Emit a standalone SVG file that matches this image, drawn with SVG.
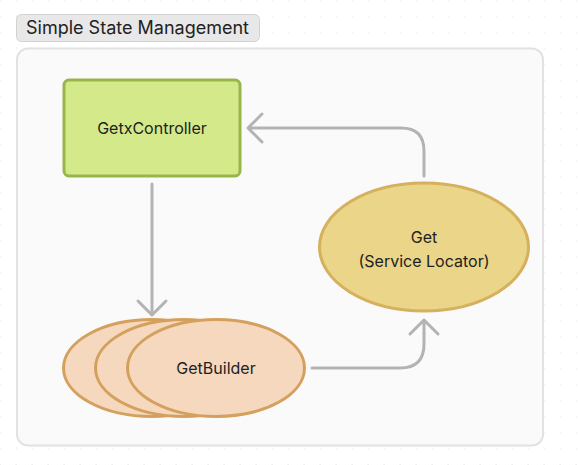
<svg xmlns="http://www.w3.org/2000/svg" width="578" height="465" viewBox="0 0 578 465">
<defs>
<pattern id="dots" x="0" y="0" width="16" height="16" patternUnits="userSpaceOnUse">
<rect x="-0.5" y="-0.5" width="1.2" height="1.2" fill="#dcdcdc"/>
<rect x="15.5" y="-0.5" width="1.2" height="1.2" fill="#dcdcdc"/>
<rect x="-0.5" y="15.5" width="1.2" height="1.2" fill="#dcdcdc"/>
<rect x="15.5" y="15.5" width="1.2" height="1.2" fill="#dcdcdc"/>
</pattern>
</defs>
<style>
text{font-family:Inter,"Liberation Sans",sans-serif;fill:#222;}
.lbl{font-size:16px;text-anchor:middle;dominant-baseline:central;}
.title{font-size:18px;}
.conn{fill:none;stroke:#b3b3b3;stroke-width:3;stroke-linecap:round;stroke-linejoin:round;}
.gb{fill:#f5d8bd;stroke:#d4a05e;stroke-width:3;}
</style>
<rect width="578" height="465" fill="#ffffff"/>
<rect width="578" height="465" fill="url(#dots)"/>
<g id="title">
<rect x="16.5" y="14.5" width="243" height="27" rx="5" fill="#e8e8e8" stroke="#d2d2d2" stroke-width="1"/>
<text class="title" x="26" y="34">Simple State Management</text>
</g>
<g id="container">
<rect x="17" y="48.5" width="526" height="397" rx="11" fill="#fafafa" stroke="#e2e2e2" stroke-width="2"/>
</g>
<g id="connectors">
<path class="conn" d="M152 184 V314"/>
<path class="conn" d="M138 301 L152 315 L166 301"/>
<path class="conn" d="M312 368 H400 Q424 368 424 344 V321"/>
<path class="conn" d="M410 334 L424 320 L438 334"/>
<path class="conn" d="M424 176 V151 Q424 128 401 128 H249"/>
<path class="conn" d="M262 114 L248 128 L262 142"/>
</g>
<g id="getxcontroller">
<rect x="64" y="80" width="176" height="96" rx="5" fill="#d4e98a" stroke="#98b54a" stroke-width="3"/>
<text class="lbl" x="152" y="128">GetxController</text>
</g>
<g id="get">
<ellipse cx="424" cy="247" rx="104.5" ry="64" fill="#ead588" stroke="#d5b05d" stroke-width="3"/>
<text class="lbl" x="424" y="236.5">Get</text>
<text class="lbl" x="424" y="260.5">(Service Locator)</text>
</g>
<g id="getbuilder">
<ellipse class="gb" cx="152" cy="368" rx="88.5" ry="48.5"/>
<ellipse class="gb" cx="184" cy="368" rx="88.5" ry="48.5"/>
<ellipse class="gb" cx="216" cy="368" rx="88.5" ry="48.5"/>
<text class="lbl" x="216" y="368">GetBuilder</text>
</g>
</svg>
